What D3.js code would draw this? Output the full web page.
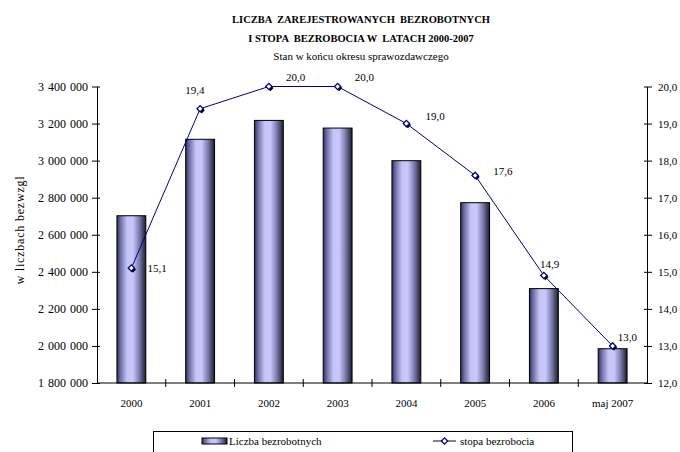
<!DOCTYPE html>
<meta charset="utf-8">
<style>
  body { margin: 0; background: #fff; }
  svg text { font-family: "Liberation Serif", "Times New Roman", "DejaVu Serif", serif; fill: #000; }
</style>
<body>
<script src="https://cdn.jsdelivr.net/npm/d3@7/dist/d3.min.js"></script>
<script>

    var categories = ["2000", "2001", "2002", "2003", "2004", "2005", "2006", "maj 2007"];
    var unemployed = [2702600, 3115100, 3217000, 3175700, 2999600, 2773000, 2309400, 1985000];
    var rate = [15.1, 19.4, 20.0, 20.0, 19.0, 17.6, 14.9, 13.0];
    var leftTicks = [1800000, 2000000, 2200000, 2400000, 2600000, 2800000, 3000000, 3200000, 3400000];
    var rightTicks = [12, 13, 14, 15, 16, 17, 18, 19, 20];

    // przesuniecia etykiet wartosci (dx, dy) wzgledem punktu
    var labelOffsets = [[16, 4], [-15, -15], [17, -6], [17, -6], [19, -4], [18, 0], [-4, -8], [5, -5]];

    var width = 680,
        height = 452;

    var margin = {left: 97, right: 647, top: 86.5, bottom: 383};
    var serif = "Liberation Serif, Times New Roman, serif";

    var svg = d3.select("body").append("svg")
            .attr("width", width)
            .attr("height", height)
            .attr("font-family", serif);

    var x = d3.scaleBand()
            .domain(categories)
            .range([margin.left, margin.right])
            .paddingInner(0.58)
            .paddingOuter(0.29);

    var yL = d3.scaleLinear().domain([1800000, 3400000]).range([margin.bottom, margin.top]);
    var yR = d3.scaleLinear().domain([12, 20]).range([margin.bottom, margin.top]);

    var fmtL = function(d) { return d3.format(",")(d).replace(/,/g, " "); };
    var fmtR = function(d) { return d.toFixed(1).replace(".", ","); };

    // gradient slupkow
    var defs = svg.append("defs");
    var grad = defs.append("linearGradient").attr("id", "barGrad")
            .attr("x1", "0%").attr("x2", "100%").attr("y1", "0%").attr("y2", "0%");
    [[0, "#303058"], [0.12, "#6c6ca4"], [0.35, "#c4c4f6"], [0.55, "#c8c8ff"], [0.78, "#7878aa"], [1, "#1c1c30"]]
        .forEach(function(s) { grad.append("stop").attr("offset", s[0]).attr("stop-color", s[1]); });

    // tytul
    var title = svg.append("g").attr("text-anchor", "middle");
    title.append("text").attr("x", 361).attr("y", 23).attr("font-size", "10.5px").attr("font-weight", "bold")
        .attr("xml:space", "preserve").text("LICZBA  ZAREJESTROWANYCH  BEZROBOTNYCH");
    title.append("text").attr("x", 361).attr("y", 42).attr("font-size", "10.5px").attr("font-weight", "bold")
        .attr("xml:space", "preserve").text("I STOPA  BEZROBOCIA W  LATACH 2000-2007");
    title.append("text").attr("x", 361).attr("y", 60).attr("font-size", "11px")
        .text("Stan w końcu okresu sprawozdawczego");

    // slupki
    svg.append("g").selectAll("rect").data(unemployed).enter().append("rect")
        .attr("x", function(d, i) { return x(categories[i]); })
        .attr("y", function(d) { return yL(d); })
        .attr("width", x.bandwidth())
        .attr("height", function(d) { return yL(1800000) - yL(d); })
        .attr("fill", "url(#barGrad)")
        .attr("stroke", "#000").attr("stroke-width", 1);

    // osie
    var axL = svg.append("g").attr("transform", "translate(" + margin.left + ",0)")
        .call(d3.axisLeft(yL).tickValues(leftTicks).tickFormat(fmtL).tickSizeOuter(0).tickSizeInner(5).tickPadding(4));
    axL.selectAll(".tick line").attr("x2", -5).attr("x1", 3);
    axL.selectAll("text").attr("font-size", "12px").attr("word-spacing", "1px");
    var axR = svg.append("g").attr("transform", "translate(" + margin.right + ",0)")
        .call(d3.axisRight(yR).tickValues(rightTicks).tickFormat(fmtR).tickSizeOuter(0).tickSizeInner(5).tickPadding(6));
    axR.selectAll(".tick line").attr("x2", 5).attr("x1", -3);
    axR.selectAll("text").attr("font-size", "11px");

    [axL, axR].forEach(function(a) {
        a.attr("font-family", serif);
        a.selectAll("text").attr("font-family", serif).attr("fill", "#000");
        a.select(".domain").attr("stroke", "#000");
    });

    var axB = svg.append("g");
    axB.append("line").attr("x1", margin.left).attr("x2", margin.right)
        .attr("y1", margin.bottom).attr("y2", margin.bottom).attr("stroke", "#000");
    axB.selectAll("line.tk").data(categories.slice(1)).enter().append("line").attr("class", "tk")
        .attr("x1", function(c) { return x(c) + x.bandwidth() / 2 - x.step() / 2; })
        .attr("x2", function(c) { return x(c) + x.bandwidth() / 2 - x.step() / 2; })
        .attr("y1", margin.bottom - 4).attr("y2", margin.bottom + 4).attr("stroke", "#000");
    axB.selectAll("text").data(categories).enter().append("text")
        .attr("x", function(c) { return x(c) + x.bandwidth() / 2; })
        .attr("y", 407).attr("text-anchor", "middle").attr("font-size", "11px")
        .text(function(c) { return c; });

    svg.append("text").attr("transform", "translate(24,230) rotate(-90)")
        .attr("text-anchor", "middle").attr("font-size", "12px").attr("letter-spacing", "0.8px")
        .text("w liczbach bezwzgl");

    // linia stopy bezrobocia
    var cx = function(i) { return x(categories[i]) + x.bandwidth() / 2; };
    var line = d3.line().x(function(d, i) { return cx(i); }).y(function(d) { return yR(d); });
    svg.append("path").datum(rate).attr("d", line)
        .attr("fill", "none").attr("stroke", "#000080").attr("stroke-width", 1);

    var diamond = d3.symbol().type(d3.symbolSquare).size(20);
    var mk = svg.append("g");
    rate.forEach(function(d, i) {
        mk.append("path").attr("d", diamond()).attr("transform", "translate(" + (cx(i) + 1.5) + "," + (yR(d) + 1.5) + ") rotate(45)")
            .attr("fill", "#000");
        mk.append("path").attr("d", diamond()).attr("transform", "translate(" + cx(i) + "," + yR(d) + ") rotate(45)")
            .attr("fill", "#fff").attr("stroke", "#000080").attr("stroke-width", 1.3);
        mk.append("text").attr("x", cx(i) + labelOffsets[i][0]).attr("y", yR(d) + labelOffsets[i][1])
            .attr("font-size", "11px").text(fmtR(d));
    });

    // legenda
    var lg = svg.append("g");
    lg.append("rect").attr("x", 153.5).attr("y", 431.5).attr("width", 419).attr("height", 40)
        .attr("fill", "#fff").attr("stroke", "#000").attr("stroke-width", 1);
    lg.append("rect").attr("x", 202).attr("y", 438).attr("width", 25).attr("height", 6)
        .attr("fill", "url(#barGrad)").attr("stroke", "#000");
    lg.append("text").attr("x", 229).attr("y", 445).attr("font-size", "11px").text("Liczba bezrobotnych");
    lg.append("line").attr("x1", 433).attr("x2", 456).attr("y1", 441).attr("y2", 441)
        .attr("stroke", "#000080");
    lg.append("path").attr("d", diamond()).attr("transform", "translate(444.5,441) rotate(45)")
        .attr("fill", "#fff").attr("stroke", "#000080").attr("stroke-width", 1.3);
    lg.append("text").attr("x", 460).attr("y", 445).attr("font-size", "11px").text("stopa bezrobocia");

</script>
